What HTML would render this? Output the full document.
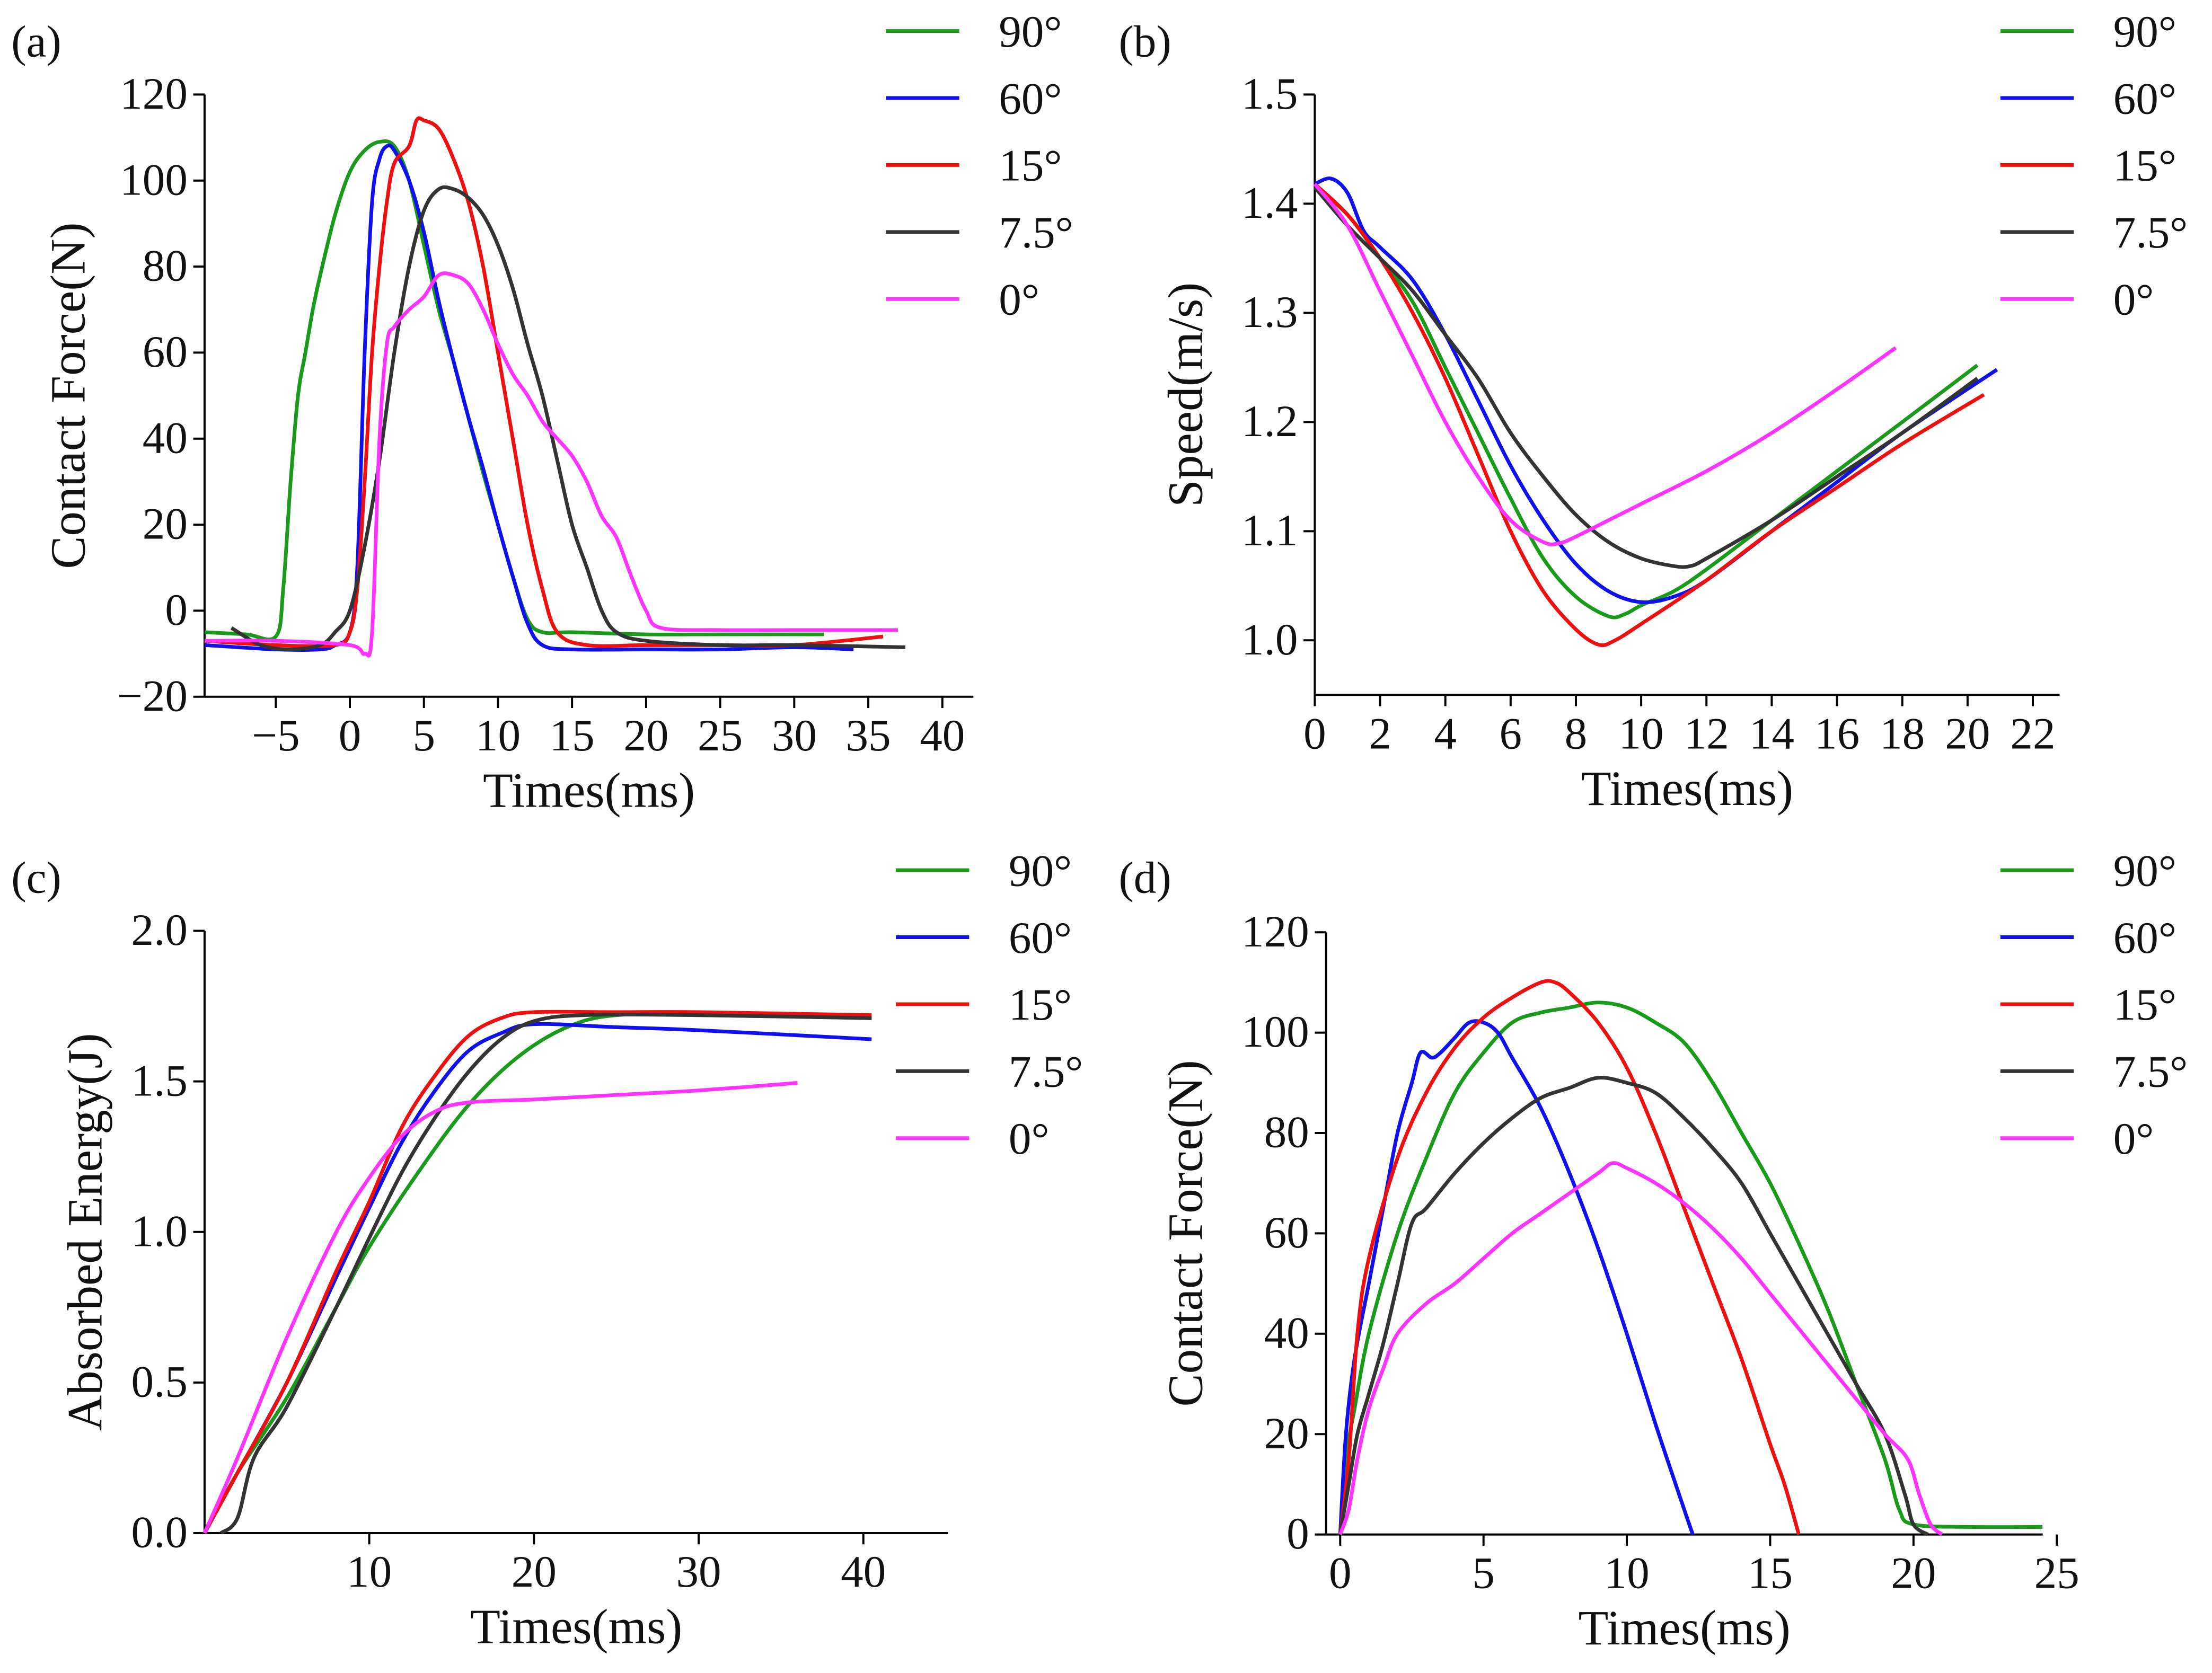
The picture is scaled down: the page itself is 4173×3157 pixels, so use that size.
<!DOCTYPE html>
<html><head><meta charset="utf-8"><style>
html,body{margin:0;padding:0;background:#fff}
svg{display:block}
text{font-family:"Liberation Serif",serif;fill:#111}
</style></head><body>
<svg id="fig" width="4173" height="3157" viewBox="0 0 1568 1186.2" xmlns="http://www.w3.org/2000/svg"></svg>
<script>
const labels=['90°','60°','15°','7.5°','0°'];
const colors=['#1a9a1a','#1010ee','#ee1010','#333333','#ff33ff'];
// Panel a data: [ms, N]
const aG=[[-9.8,-5],[-7,-5.5],[-5,-6],[-4.5,5],[-4,30],[-3.5,50],[-3,60],[-2.5,70],[-2,78],[-1,92],[0,102],[1,107],[2,109],[3,108],[4,100],[5,85],[6,70],[7,58],[8,45],[9,32],[10,20],[11,8],[12,-2],[13,-5],[15,-5],[20,-5.5],[25,-5.5],[32,-5.5]];
const aB=[[-9.8,-8],[-5,-9],[-2,-9],[-1,-8],[0,-5],[0.5,10],[1,60],[1.5,95],[2,105],[2.5,108],[3,107],[4,100],[5,88],[6,72],[7,58],[8,45],[9,33],[10,20],[11,8],[12,-3],[13,-8],[15,-9],[20,-9],[25,-9],[30,-8.5],[34,-9]];
const aR=[[-9.8,-7],[-5,-8],[-1,-8],[0,-5],[0.5,5],[1,30],[1.5,60],[2,80],[2.5,95],[3,104],[4,108],[4.5,114],[5,114],[6,112],[7,105],[8,95],[9,80],[10,60],[11,40],[12,20],[13,5],[14,-5],[16,-8],[20,-8],[25,-8],[30,-8],[36,-6]];
const aK=[[-8,-4],[-6,-8],[-4,-9],[-2,-8],[-1,-5],[0,0],[1,15],[2,35],[3,60],[4,80],[5,93],[6,98],[7,98],[8,96],[9,92],[10,85],[11,75],[12,62],[13,50],[14,35],[15,20],[16,10],[17,0],[18,-5],[20,-7],[25,-8],[30,-8],[37.5,-8.5]];
const aM=[[-9.8,-7],[-5,-7],[0,-8],[1,-10],[1.5,-5],[2,40],[2.5,62],[3,66],[4,70],[5,73],[6,78],[7,78],[8,76],[9,70],[10,62],[11,55],[12,50],[13,44],[14,40],[15,36],[16,30],[17,22],[18,17],[19,8],[20,0],[21,-4],[25,-4.5],[30,-4.5],[37,-4.5]];
// Panel b: [ms, m/s]
const bG=[[0,1.415],[1,1.39],[2,1.35],[3,1.31],[4,1.25],[5,1.19],[6,1.13],[7,1.075],[8,1.04],[9,1.022],[9.5,1.024],[10,1.032],[11,1.045],[12,1.065],[14,1.11],[16,1.155],[18,1.2],[20.3,1.252]];
const bB=[[0,1.418],[0.5,1.423],[1,1.41],[1.5,1.375],[2,1.36],[3,1.33],[4,1.28],[5,1.22],[6,1.16],[7,1.11],[8,1.07],[9,1.045],[10,1.035],[11,1.04],[12,1.055],[14,1.1],[16,1.145],[18,1.19],[20.9,1.248]];
const bR=[[0,1.418],[1,1.39],[2,1.35],[3,1.3],[4,1.24],[5,1.17],[6,1.1],[7,1.045],[8,1.01],[8.7,0.996],[9.2,1.0],[10,1.015],[12,1.055],[14,1.1],[16,1.14],[18,1.18],[20.5,1.225]];
const bK=[[0,1.415],[1,1.38],[2,1.35],[3,1.32],[4,1.28],[5,1.24],[6,1.19],[7,1.15],[8,1.115],[9,1.09],[10,1.075],[11,1.068],[11.5,1.068],[12,1.075],[14,1.11],[16,1.15],[18,1.19],[20.3,1.24]];
const bM=[[0,1.418],[1,1.38],[2,1.32],[3,1.26],[4,1.2],[5,1.15],[6,1.11],[7,1.09],[7.5,1.089],[8,1.095],[9,1.11],[10,1.125],[12,1.155],[14,1.19],[16,1.23],[17.8,1.268]];
// Panel c: [ms, J]
const cG=[[0,0],[2,0.2],[5,0.45],[8,0.75],[10,0.95],[13,1.2],[16,1.42],[19,1.58],[22,1.68],[25,1.72],[30,1.72],[40.5,1.71]];
const cB=[[0,0],[2,0.2],[5,0.5],[8,0.85],[10,1.08],[12,1.3],[14,1.47],[16,1.6],[18,1.66],[20,1.69],[25,1.68],[30,1.67],[40.5,1.64]];
const cR=[[0,0],[2,0.2],[5,0.5],[8,0.87],[10,1.1],[12,1.35],[14,1.52],[16,1.65],[18,1.71],[20,1.73],[25,1.73],[30,1.73],[40.5,1.72]];
const cK=[[1,0],[2,0.05],[3,0.25],[5,0.42],[8,0.75],[10,0.98],[12,1.2],[14,1.38],[16,1.53],[18,1.64],[20,1.7],[23,1.72],[30,1.72],[40.5,1.71]];
const cM=[[0,0],[2,0.25],[5,0.65],[8,1.0],[10,1.18],[12,1.32],[14,1.4],[16,1.43],[20,1.44],[25,1.455],[30,1.47],[36,1.495]];
// Panel d: [ms, N]
const dG=[[0,0],[0.2,15],[0.5,25],[1,40],[2,60],[3,75],[4,88],[5,96],[6,102],[7,104],[8,105],[9,106],[10,105],[11,102],[12,98],[13,90],[14,80],[15,70],[16,58],[17,45],[18,30],[19,15],[19.5,5],[20,2],[22,1.5],[24.5,1.5]];
const dB=[[0,0],[0.2,20],[0.5,35],[1,50],[1.5,65],[2,80],[2.5,90],[2.8,96],[3.2,95],[3.5,96],[4,99],[4.5,102],[5,102],[5.5,100],[6,95],[7,85],[8,72],[9,57],[10,40],[11,22],[12,5],[12.3,0]];
const dR=[[0,0],[0.3,15],[0.6,40],[1,55],[2,75],[3,88],[4,97],[5,103],[6,107],[7,110],[7.5,110],[8,108],[9,102],[10,93],[11,80],[12,65],[13,50],[14,35],[15,18],[15.5,10],[16,0]];
const dK=[[0,0],[0.3,10],[0.6,20],[1,28],[1.5,38],[2,50],[2.5,62],[3,65],[4,72],[5,78],[6,83],[7,87],[8,89],[9,91],[10,90],[11,88],[12,83],[13,77],[14,70],[15,60],[16,50],[17,40],[18,30],[19,20],[19.7,8],[20,2],[20.5,0]];
const dM=[[0,0],[0.3,5],[0.6,15],[1,25],[1.5,33],[2,40],[3,46],[4,50],[5,55],[6,60],[7,64],[8,68],[9,72],[9.5,74],[10,73],[11,70],[12,66],[13,61],[14,55],[15,48],[16,41],[17,34],[18,27],[19,20],[19.8,15],[20.2,8],[20.6,2],[21,0]];
const aXT=[-5,0,5,10,15,20,25,30,35,40], aYT=[-20,0,20,40,60,80,100,120];
const bXT=[0,2,4,6,8,10,12,14,16,18,20,22], bYT=[1.0,1.1,1.2,1.3,1.4,1.5];
const cXT=[10,20,30,40], cYT=[0.0,0.5,1.0,1.5,2.0];
const dXT=[0,5,10,15,20,25], dYT=[0,20,40,60,80,100,120];

const svg=document.getElementById('fig');
const NS='http://www.w3.org/2000/svg';
function mk(tag,attrs,parent){const e=document.createElementNS(NS,tag);for(const k in attrs)e.setAttribute(k,attrs[k]);(parent||svg).appendChild(e);return e;}
function smooth(pts){
  let d='M'+pts[0][0].toFixed(2)+' '+pts[0][1].toFixed(2);
  for(let i=0;i<pts.length-1;i++){
    const p0=pts[i-1]||pts[i],p1=pts[i],p2=pts[i+1],p3=pts[i+2]||p2;
    const c1x=p1[0]+(p2[0]-p0[0])/6,c1y=p1[1]+(p2[1]-p0[1])/6;
    const c2x=p2[0]-(p3[0]-p1[0])/6,c2y=p2[1]-(p3[1]-p1[1])/6;
    d+=` C${c1x.toFixed(2)} ${c1y.toFixed(2)} ${c2x.toFixed(2)} ${c2y.toFixed(2)} ${p2[0].toFixed(2)} ${p2[1].toFixed(2)}`;
  }
  return d;
}

function panel(p){
  const g=mk('g',{});
  
  
  const sx=v=>p.x0px+(v-p.x0v)*(p.x1px-p.x0px)/(p.x1v-p.x0v);
  const sy=v=>p.y0px+(v-p.y0v)*(p.y1px-p.y0px)/(p.y1v-p.y0v);
  const L=p.left,B=sy(p.ymin);
  const ax=mk('line',{x1:L,y1:B,x2:p.right,y2:B,stroke:'#000','stroke-width':1.5},g);
  
  
  const ay=mk('line',{x1:L,y1:B,x2:L,y2:sy(p.ymax),stroke:'#000','stroke-width':1.5},g);
  
  
  p.xt.forEach(v=>{const x=sx(v);
    mk('line',{x1:x,y1:B,x2:x,y2:B+8,stroke:'#000','stroke-width':1.5},g);
    const t=mk('text',{x:x,y:B+38,'font-size':32,'text-anchor':'middle'},g);
    t.textContent=String(v).replace('-','\u2212');
    
    });
  p.yt.forEach(v=>{const y=sy(v);
    mk('line',{x1:L,y1:y,x2:L-8,y2:y,stroke:'#000','stroke-width':1.5},g);
    const t=mk('text',{x:L-12,y:y+10,'font-size':32,'text-anchor':'end'},g);
    t.textContent=(p.dec?v.toFixed(p.dec):String(v)).replace('-','\u2212');
    
    });
  const xt=mk('text',{x:(L+p.right)/2,y:B+78,'font-size':35,'text-anchor':'middle'},g);
  xt.textContent='Times(ms)';
  
  
  const ycx=p.ytx, ycy=(B+sy(p.ymax))/2;
  const yt=mk('text',{x:ycx,y:ycy,'font-size':35,'text-anchor':'middle',transform:`rotate(-90 ${ycx} ${ycy})`},g);
  yt.textContent=p.ytitle;
  
  
  const pl=mk('text',{x:p.lx,y:p.ly,'font-size':32},g);
  pl.textContent='('+p.id+')';
  
  
  p.series.forEach((s,i)=>{
    const d=smooth(s.map(q=>[sx(q[0]),sy(q[1])]));
    const path=mk('path',{d:d,fill:'none',stroke:colors[i],'stroke-width':2.6,'stroke-linejoin':'round'},g);
    
    
  });
  labels.forEach((lab,i)=>{const y=p.legY+i*47.5;
    const lg=mk('g',{},g);
    
    
    mk('line',{x1:p.legX,y1:y,x2:p.legX+52,y2:y,stroke:colors[i],'stroke-width':2.6},lg);
    const t=mk('text',{x:p.legX+80,y:y+11,'font-size':32},lg);t.textContent=lab;});
}
panel({id:'a',series:[aG,aB,aR,aK,aM],xt:aXT,yt:aYT,x0v:0,x0px:248,x1v:40,x1px:668,y0v:0,y0px:433,y1v:120,y1px:67,left:145,right:690,ymin:-20,ymax:120,ytitle:'Contact Force(N)',ytx:60,lx:8,ly:40,legX:628,legY:22});
panel({id:'b',series:[bG,bB,bR,bK,bM],xt:bXT,yt:bYT,dec:1,x0v:0,x0px:932,x1v:22,x1px:1441,y0v:1.0,y0px:454,y1v:1.5,y1px:67,left:932,right:1460,ymin:0.95,ymax:1.5,ytitle:'Speed(m/s)',ytx:852,lx:793,ly:40,legX:1418,legY:22});
panel({id:'c',series:[cG,cB,cR,cK,cM],xt:cXT,yt:cYT,dec:1,x0v:0,x0px:145,x1v:40,x1px:612,y0v:0,y0px:1087,y1v:2.0,y1px:660,left:145,right:672,ymin:0,ymax:2.0,ytitle:'Absorbed Energy(J)',ytx:72,lx:8,ly:633,legX:635,legY:617});
panel({id:'d',series:[dG,dB,dR,dK,dM],xt:dXT,yt:dYT,x0v:0,x0px:950,x1v:25,x1px:1458,y0v:0,y0px:1088,y1v:120,y1px:661,left:940,right:1448,ymin:0,ymax:120,ytitle:'Contact Force(N)',ytx:852,lx:793,ly:633,legX:1418,legY:617});
</script>
</body></html>
